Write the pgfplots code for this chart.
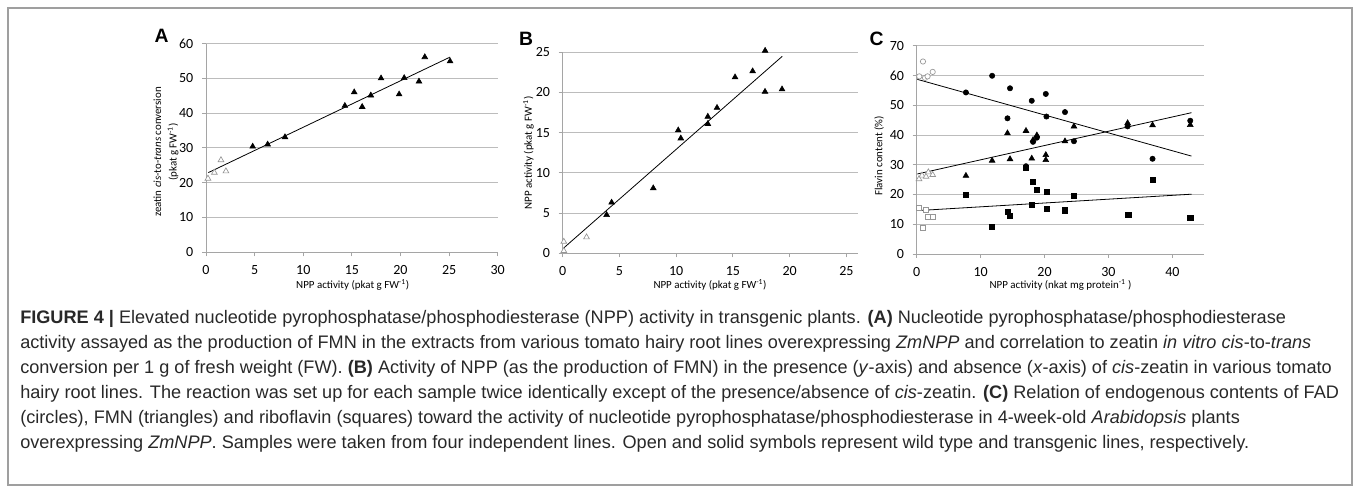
\documentclass[border=0pt]{standalone}
\usepackage{fontspec}
\setmainfont{Liberation Sans}
\newfontfamily\calib{Carlito}
\usepackage{pgfplots}
\pgfplotsset{compat=1.18}

\definecolor{gridc}{RGB}{188,188,188}
\definecolor{axc}{RGB}{165,165,165}
\definecolor{openc}{RGB}{150,150,150}
\definecolor{captc}{RGB}{40,40,40}

\newcommand\tickfont{\calib\fontsize{10.5}{11}\selectfont}
\newcommand\labfont{\calib\fontsize{8.2}{11.5}\selectfont}
\newcommand\captfont{\fontsize{13.6}{15}\selectfont}

\pgfplotsset{
  xl/.style={
    scale only axis,
    axis lines*=left,
    axis line style={draw=axc, line width=0.7pt},
    tick style={draw=axc, line width=0.7pt},
    tick align=outside,
    major tick length=3pt,
    ymajorgrids,
    grid style={draw=gridc, line width=0.7pt},
    clip=false,
    ticklabel style={font=\tickfont},
    /pgf/number format/assume math mode=true,
    xticklabel style={yshift=-3.5pt},
    yticklabel style={xshift=-3pt},
    anchor=south west,
  },
  fill tri/.style={only marks, mark=triangle*, mark size=2.5pt, mark options={fill=black, draw=black}},
  open tri/.style={only marks, mark=triangle*, mark size=2.5pt, mark options={fill=white, draw=openc, line width=0.5pt}},
  fill circ/.style={only marks, mark=*, mark size=2pt, mark options={fill=black, draw=black}},
  open circ/.style={only marks, mark=*, mark size=2pt, mark options={fill=white, draw=openc, line width=0.5pt}},
  fill sq/.style={only marks, mark=square*, mark size=1.9pt, mark options={fill=black, draw=black}},
  open sq/.style={only marks, mark=square*, mark size=1.9pt, mark options={fill=white, draw=openc, line width=0.5pt}},
  trend/.style={no marks, black, line width=0.6pt},
}

\begin{document}
\begin{tikzpicture}[x=0.75pt, y=0.75pt]
\draw[draw=gray!75, line width=0.8pt] (8,3) rectangle (1352,480);
\coordinate (pA) at (206,235.7);
\coordinate (pB) at (562.7,234.7);
\coordinate (pC) at (916.7,234);

% ---------- A ----------
\begin{axis}[xl, at={(pA)}, width=218.8pt, height=156.6pt,
  xmin=0, xmax=30, ymin=0, ymax=60,
  xtick={0,5,...,30}, ytick={0,10,...,60}]
\addplot[trend] coordinates {(0.24,22.9) (25.1,56.1)};
\addplot[open tri] coordinates {(0.2,21.2) (0.86,22.9) (1.54,26.5) (2.05,23.3)};
\addplot[fill tri] coordinates {
  (4.8,30.4) (6.34,31.0) (8.12,33.1) (14.28,42.1) (15.24,46.0) (16.06,41.8)
  (16.95,45.1) (18.0,50.0) (19.86,45.4) (20.38,50.1) (21.9,49.1) (22.5,56.1) (25.1,54.9)};
\end{axis}

% ---------- B ----------
\begin{axis}[xl, at={(pB)}, width=221.25pt, height=150.75pt,
  xmin=0, xmax=26, ymin=0, ymax=25,
  xtick={0,5,...,25}, ytick={0,5,...,25}]
\addplot[trend] coordinates {(0.12,0.7) (19.35,24.5)};
\addplot[open tri] coordinates {(0.1,1.45) (0.1,0.3) (2.1,2.0)};
\addplot[fill tri] coordinates {
  (3.87,4.78) (4.31,6.32) (7.98,8.1) (10.18,15.3) (10.41,14.3) (12.79,17.0)
  (12.79,16.1) (13.6,18.1) (15.19,21.9) (16.74,22.65) (17.83,20.1) (17.84,25.2) (19.33,20.4)};
\end{axis}

% ---------- C ----------
\begin{axis}[xl, at={(pC)}, width=215.7pt, height=156.2pt,
  xmin=0, xmax=45, ymin=0, ymax=70,
  xtick={0,10,...,40}, ytick={0,10,...,70}]
\addplot[trend] coordinates {(0.1,58.7) (43.0,32.9)};
\addplot[trend] coordinates {(0.1,26.9) (43.0,47.5)};
\addplot[trend] coordinates {(0.26,14.6) (43.0,20.1)};
% FAD
\addplot[open circ] coordinates {(0.4,59.7) (0.98,64.7) (1.3,59.2) (1.7,59.7) (2.5,61.2)};
\addplot[fill circ] coordinates {
  (7.7,54.3) (11.8,59.9) (14.6,55.7) (14.2,45.6) (17.1,29.5) (18.0,51.5)
  (18.2,37.7) (18.8,39.1) (20.2,53.8) (20.3,46.2) (23.2,47.7) (24.6,37.9)
  (33.0,42.9) (36.9,32.0) (42.8,44.8)};
% FMN
\addplot[open tri] coordinates {(0.36,25.2) (0.83,26.4) (1.46,26.0) (1.82,27.5) (2.5,26.6)};
\addplot[fill tri] coordinates {
  (7.7,26.3) (11.8,31.4) (14.2,40.6) (14.6,31.9) (17.1,41.4) (18.0,32.1)
  (18.2,38.3) (18.8,39.9) (20.2,33.3) (20.2,31.6) (23.2,37.9) (24.6,42.9)
  (33.0,44.0) (36.9,43.3) (42.8,43.4)};
% riboflavin
\addplot[open sq] coordinates {(0.36,15.4) (0.94,8.7) (1.46,14.7) (1.82,12.5) (2.5,12.5)};
\addplot[fill sq] coordinates {
  (7.7,19.9) (11.8,9.1) (14.2,14.3) (14.6,12.7) (17.0,29.0) (18.0,16.7)
  (18.2,24.4) (18.85,21.5) (20.3,20.9) (20.3,15.1) (23.2,14.7) (24.6,19.6)
  (33.1,13.1) (36.9,25.1) (42.8,12.2)};
\end{axis}

% panel letters
\node[font=\bfseries\fontsize{14.5}{15}\selectfont] at (161.5,452) {A};
\node[font=\bfseries\fontsize{14.5}{15}\selectfont] at (526,449) {B};
\node[font=\bfseries\fontsize{14.5}{15}\selectfont] at (876.7,449.5) {C};

% axis titles
\node[rotate=90, font=\labfont, align=center] at (166,336) {zeatin \textit{cis}-to-\textit{trans} conversion\\(pkat g FW\textsuperscript{-1})};
\node[font=\labfont] at (352.7,203) {NPP activity (pkat g FW\textsuperscript{-1})};
\node[rotate=90, font=\labfont] at (528.5,335) {NPP activity (pkat g FW\textsuperscript{-1})};
\node[font=\labfont] at (710,203) {NPP activity (pkat g FW\textsuperscript{-1})};
\node[rotate=90, font=\labfont] at (879,332) {Flavin content (\%)};
\node[font=\labfont] at (1060.5,203) {NPP activity (nkat mg protein\textsuperscript{-1} )};

% caption
\begin{scope}[every node/.style={anchor=base west, inner sep=0pt, font=\captfont, text=captc}]
\node at (20,164) {\textbf{FIGURE 4 |} Elevated nucleotide pyrophosphatase/phosphodiesterase (NPP) activity in transgenic plants. \textbf{(A)} Nucleotide pyrophosphatase/phosphodiesterase};
\node at (20,139) {activity assayed as the production of FMN in the extracts from various tomato hairy root lines overexpressing \textit{ZmNPP} and correlation to zeatin \textit{in vitro cis}-to-\textit{trans}};
\node at (20,114) {conversion per 1 g of fresh weight (FW). \textbf{(B)} Activity of NPP (as the production of FMN) in the presence (\textit{y}-axis) and absence (\textit{x}-axis) of \textit{cis}-zeatin in various tomato};
\node at (20,89) {hairy root lines. The reaction was set up for each sample twice identically except of the presence/absence of \textit{cis}-zeatin. \textbf{(C)} Relation of endogenous contents of FAD};
\node at (20,64) {(circles), FMN (triangles) and riboflavin (squares) toward the activity of nucleotide pyrophosphatase/phosphodiesterase in 4-week-old \textit{Arabidopsis} plants};
\node at (20,39) {overexpressing \textit{ZmNPP}. Samples were taken from four independent lines. Open and solid symbols represent wild type and transgenic lines, respectively.};
\end{scope}
\path (0,0) rectangle (1358,488);
\end{tikzpicture}
\end{document}
